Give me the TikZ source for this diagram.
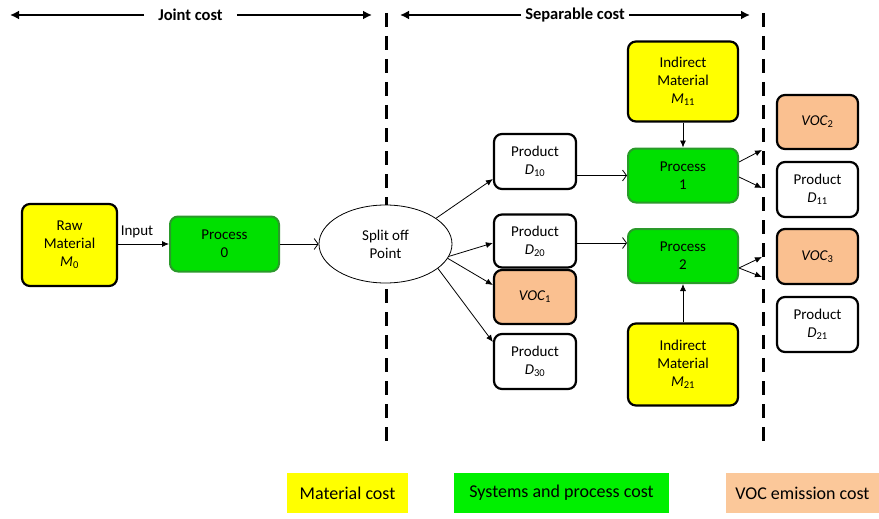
\documentclass[tikz,border=0pt]{standalone}
\usepackage{fontspec}
\setmainfont{Carlito}
\usetikzlibrary{arrows.meta,shapes.geometric,calc}
\definecolor{myyellow}{HTML}{FFFF00}
\definecolor{mygreen}{HTML}{00E000}
\definecolor{mygreenborder}{HTML}{2A9A2A}
\definecolor{myorange}{HTML}{FAC090}
\definecolor{leggreen}{HTML}{00F000}
\definecolor{legorange}{HTML}{FBC89A}
\begin{document}
\begin{tikzpicture}[x=1pt,y=-1pt,
  font=\fontsize{15}{18}\selectfont,
  box/.style={draw=black, line width=2.2pt, rounded corners=8pt, align=center, inner sep=0pt},
  matbox/.style={box, fill=myyellow, minimum width=110pt, minimum height=81pt},
  procbox/.style={draw=mygreenborder, line width=2pt, rounded corners=8pt, fill=mygreen, align=center, inner sep=0pt, minimum width=110pt, minimum height=54pt},
  prodbox/.style={box, fill=white, minimum width=82pt, minimum height=55pt},
  vocbox/.style={box, fill=myorange, minimum width=82pt, minimum height=55pt},
  conn/.style={-{Latex[length=7pt,width=6pt]}, line width=0.8pt},
  openconn/.style={-{Straight Barb[length=4pt,width=11pt]}, line width=0.8pt},
  divider/.style={line width=3pt, dash pattern=on 14pt off 9pt},
  hdr/.style={-{Latex[length=9pt,width=9pt]}, line width=2.6pt},
  hdrtext/.style={font=\fontsize{16.5}{18}\selectfont\bfseries, inner sep=0pt},
  legend/.style={inner sep=0pt, minimum height=40pt, font=\fontsize{18}{20}\selectfont}]
\useasboundingbox (0,0) rectangle (879,519);

% headers
\node[hdrtext] (jc) at (190.5,15) {Joint cost};
\node[hdrtext] (sc) at (575,15) {Separable cost};
\coordinate (jcl) at (10,15);
\coordinate (jcr) at (372,15);
\coordinate (scl) at (400,15);
\coordinate (scr) at (750,15);
\draw[hdr] ([xshift=-14pt]jc.west) -- (jcl);
\draw[hdr] ([xshift=14pt]jc.east) -- (jcr);
\draw[hdr] ([xshift=-4pt]sc.west) -- (scl);
\draw[hdr] ([xshift=4pt]sc.east) -- (scr);

% dividers
\coordinate (d1t) at (386,13);
\coordinate (d1b) at (386,445);
\coordinate (d2t) at (763,13);
\coordinate (d2b) at (763,445);
\draw[divider] (d1t) -- (d1b);
\draw[divider] (d2t) -- (d2b);

% nodes
\node[box, fill=myyellow, minimum width=95pt, minimum height=82pt] (raw) at (69.5,245) {Raw\\Material\\\textit{M}\textsubscript{0}};
\node[procbox, minimum width=109pt, minimum height=55pt] (p0) at (224.5,244) {Process\\0};
\node[draw, fill=white, ellipse, line width=0.8pt, minimum width=133pt, minimum height=78pt, inner sep=0pt, align=center] (split) at (385.5,244) {Split off\\Point};

\node[prodbox] (d10) at (535,161.5) {Product\\\textit{D}\textsubscript{10}};
\node[prodbox, minimum height=53pt] (d20) at (535,241) {Product\\\textit{D}\textsubscript{20}};
\node[vocbox, minimum height=54pt] (voc1) at (535,297) {\textit{VOC}\textsubscript{1}};
\node[prodbox] (d30) at (535,361.5) {Product\\\textit{D}\textsubscript{30}};

\node[procbox] (p1) at (683,175.5) {Process\\1};
\node[procbox] (p2) at (683,256) {Process\\2};
\node[matbox, minimum height=80pt] (m11) at (683,81.5) {Indirect\\Material\\\textit{M}\textsubscript{11}};
\node[matbox, minimum height=82pt] (m21) at (683,364.5) {Indirect\\Material\\\textit{M}\textsubscript{21}};

\node[vocbox, minimum width=81pt, minimum height=54pt] (voc2) at (817.5,122) {\textit{VOC}\textsubscript{2}};
\node[prodbox, minimum width=81pt] (d11) at (817.5,189.5) {Product\\\textit{D}\textsubscript{11}};
\node[vocbox, minimum width=81pt] (voc3) at (817.5,256.5) {\textit{VOC}\textsubscript{3}};
\node[prodbox, minimum width=81pt] (d21) at (817.5,324.5) {Product\\\textit{D}\textsubscript{21}};

% connectors
\draw[conn] (raw.east |- p0.west) -- (p0.west);
\node[inner sep=0pt] (inlbl) at (137,232) {Input};
\draw[openconn] (p0.east) -- (split.west);

\draw[conn] (split.27) -- ([yshift=-17.5pt]d10.west);
\draw[conn] (split.-11) -- ([yshift=-2pt]d20.west);
\draw[conn] (split.-13) -- ([yshift=12pt]voc1.west);
\draw[conn] (split.-25) -- ([yshift=19.5pt]d30.west);

\draw[openconn] (d10.east |- p1.west) -- (p1.west);
\draw[openconn] ([yshift=-2pt]d20.east) -- ([yshift=-2pt]d20.east -| p2.west);

\draw[conn] (m11.south) -- (p1.north);
\draw[conn] (m21.north) -- (p2.south);

\coordinate (t1a) at (762,150);
\coordinate (t1b) at (762,188);
\coordinate (t2a) at (762,257);
\coordinate (t2b) at (762,277);
\draw[conn] ([yshift=13.5pt]p1.east) -- (t1a);
\draw[conn] ([yshift=-1.5pt]p1.east) -- (t1b);
\draw[conn] ([yshift=-12pt]p2.east) -- (t2a);
\draw[conn] ([yshift=-12pt]p2.east) -- (t2b);

% legend
\node[legend, fill=myyellow, minimum width=121pt] (lmat) at (347.5,493) {Material cost};
\node[legend, fill=leggreen, minimum width=215pt] (lsys) at (561.5,493) {Systems and process cost};
\node[legend, fill=legorange, minimum width=153pt] (lvoc) at (802.5,493) {VOC emission cost};
\end{tikzpicture}
\end{document}
